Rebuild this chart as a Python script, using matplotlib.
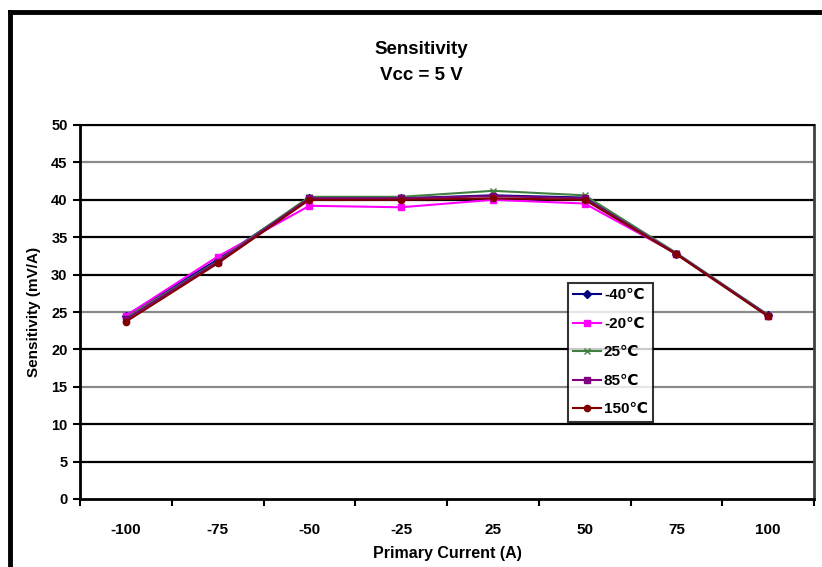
import matplotlib
matplotlib.use("Agg")
import matplotlib.pyplot as plt
from matplotlib.lines import Line2D

plt.rcParams['font.family'] = ['Liberation Sans', 'DejaVu Sans']

# Data
currents = ['-100', '-75', '-50', '-25', '25', '50', '75', '100']
s_m40 = [24.5, 32.0, 40.2, 40.2, 40.6, 40.3, 32.8, 24.6]
s_m20 = [24.5, 32.4, 39.2, 39.0, 40.0, 39.5, 32.8, 24.5]
s_25 = [24.2, 31.8, 40.4, 40.4, 41.2, 40.6, 32.9, 24.6]
s_85 = [24.0, 31.7, 40.2, 40.2, 40.5, 40.2, 32.8, 24.5]
s_150 = [23.7, 31.5, 40.0, 40.0, 40.2, 40.0, 32.7, 24.4]
labels = ['-40\u2103', '-20\u2103', '25\u2103', '85\u2103', '150\u2103']
yticks = list(range(0, 51, 5))

series = [s_m40, s_m20, s_25, s_85, s_150]
colors = ['#000080', '#ff00ff', '#408040', '#800080', '#800000']
markers = ['D', 's', 'x', 's', 'o']

fig = plt.figure(figsize=(8.22, 5.67), dpi=100)
ax = fig.add_axes([80 / 822, 1 - 499 / 567, 734 / 822, 374 / 567])

x = list(range(len(currents)))
for ys, c, m, lab in zip(series, colors, markers, labels):
    ax.plot(x, ys, color=c, marker=m, markersize=4.5, lw=1.5, label=lab, zorder=3)

# horizontal gridlines (some render grey in the original)
for v in yticks[1:]:
    gc = '#8a8a8a' if v in (45, 25, 15) else 'black'
    ax.axhline(v, color=gc, lw=1.6, zorder=1)

ax.set_xlim(-0.5, len(currents) - 0.5)
ax.set_ylim(0, 50)
ax.set_yticks(yticks)
ax.set_yticklabels([str(v) for v in yticks], fontsize=10.5, fontweight='bold')
ax.set_xticks(x)
ax.set_xticklabels(currents, fontsize=11, fontweight='bold')
ax.tick_params(axis='x', length=0, pad=17)
ax.set_xticks([i - 0.5 for i in range(len(currents) + 1)], minor=True)
ax.tick_params(axis='x', which='minor', length=5, width=1.5, direction='out')
ax.tick_params(axis='y', length=5, width=1.5, direction='out', pad=4)

for side in ['left', 'bottom']:
    ax.spines[side].set_linewidth(2)
ax.spines['top'].set_linewidth(1.5)
ax.spines['right'].set_linewidth(2)
ax.spines['right'].set_color('#404040')

ax.set_xlabel('Primary Current (A)', fontsize=11.5, fontweight='bold', labelpad=7)
ax.set_ylabel('Sensitivity (mV/A)', fontsize=11, fontweight='bold', labelpad=7)

fig.text(421 / 822, 1 - 49 / 567, 'Sensitivity', ha='center', va='center',
         fontsize=13.5, fontweight='bold')
fig.text(421 / 822, 1 - 75 / 567, 'Vcc = 5 V', ha='center', va='center',
         fontsize=13.5, fontweight='bold')

leg = ax.legend(loc='upper left', bbox_to_anchor=((568 - 80) / 734, (499 - 283) / 374),
                fontsize=11, frameon=True, fancybox=False, borderpad=0.35,
                handlelength=1.8, handletextpad=0.2, labelspacing=0.95,
                borderaxespad=0)
leg.get_frame().set_edgecolor('black')
leg.get_frame().set_linewidth(1.5)
for t in leg.get_texts():
    t.set_fontweight('bold')

# outer chart border (left and top)
fig.add_artist(Line2D([10 / 822, 10 / 822], [0, 1 - 12 / 567], color='black', lw=3.5,
                      transform=fig.transFigure))
fig.add_artist(Line2D([10 / 822, 1], [1 - 12 / 567, 1 - 12 / 567], color='black', lw=3.5,
                      transform=fig.transFigure))

fig.savefig('out.png', dpi=100)
